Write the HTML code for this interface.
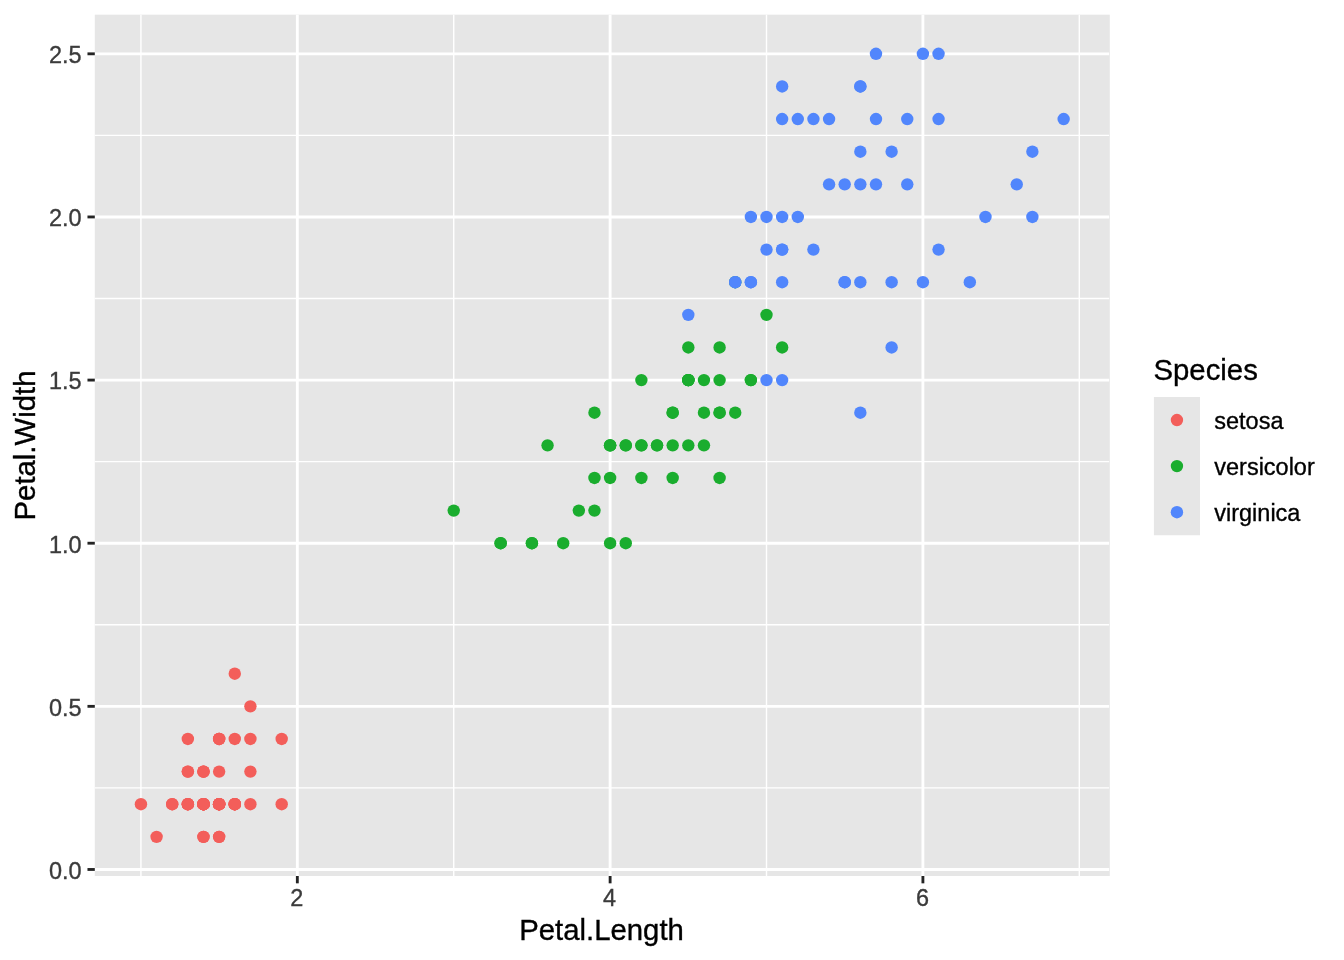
<!DOCTYPE html>
<html><head><meta charset="utf-8"><title>iris</title>
<style>
html,body{margin:0;padding:0;background:#fff;}
body{width:1344px;height:960px;overflow:hidden;}
body{position:relative;}
svg{display:block;position:absolute;left:0;top:0;}
#txt{will-change:transform;}
text{font-family:"Liberation Sans",sans-serif;}
.tk{font-size:23.47px;fill:#3B3B3B;stroke:#3B3B3B;stroke-width:0.35px;}
.ti{font-size:29.33px;fill:#000;stroke:#000;stroke-width:0.35px;}
.ll{font-size:23.47px;fill:#000;stroke:#000;stroke-width:0.35px;}
</style></head><body>
<svg width="1344" height="960" viewBox="0 0 1344 960">
<rect x="0" y="0" width="1344" height="960" fill="#FFFFFF"/>
<rect x="94.80" y="14.67" width="1015.00" height="861.33" fill="#E6E6E6"/>
<g stroke="#FFFFFF" stroke-width="1.42" fill="none">
<line x1="94.80" x2="1109.10" y1="787.91" y2="787.91"/>
<line x1="94.80" x2="1109.10" y1="624.78" y2="624.78"/>
<line x1="94.80" x2="1109.10" y1="461.65" y2="461.65"/>
<line x1="94.80" x2="1109.10" y1="298.52" y2="298.52"/>
<line x1="94.80" x2="1109.10" y1="135.39" y2="135.39"/>
<line x1="140.94" x2="140.94" y1="14.67" y2="876.00"/>
<line x1="453.73" x2="453.73" y1="14.67" y2="876.00"/>
<line x1="766.51" x2="766.51" y1="14.67" y2="876.00"/>
<line x1="1079.30" x2="1079.30" y1="14.67" y2="876.00"/>
</g>
<g stroke="#FFFFFF" stroke-width="2.85" fill="none">
<line x1="94.80" x2="1109.10" y1="869.47" y2="869.47"/>
<line x1="94.80" x2="1109.10" y1="706.34" y2="706.34"/>
<line x1="94.80" x2="1109.10" y1="543.21" y2="543.21"/>
<line x1="94.80" x2="1109.10" y1="380.08" y2="380.08"/>
<line x1="94.80" x2="1109.10" y1="216.95" y2="216.95"/>
<line x1="94.80" x2="1109.10" y1="53.82" y2="53.82"/>
<line x1="297.33" x2="297.33" y1="14.67" y2="876.00"/>
<line x1="610.12" x2="610.12" y1="14.67" y2="876.00"/>
<line x1="922.91" x2="922.91" y1="14.67" y2="876.00"/>
</g>
<g fill="#F35E5A">
<circle cx="203.49" cy="804.22" r="6.20"/><circle cx="203.49" cy="804.22" r="6.20"/><circle cx="187.85" cy="804.22" r="6.20"/><circle cx="219.13" cy="804.22" r="6.20"/><circle cx="203.49" cy="804.22" r="6.20"/><circle cx="250.41" cy="738.97" r="6.20"/><circle cx="203.49" cy="771.60" r="6.20"/><circle cx="219.13" cy="804.22" r="6.20"/><circle cx="203.49" cy="804.22" r="6.20"/><circle cx="219.13" cy="836.85" r="6.20"/><circle cx="219.13" cy="804.22" r="6.20"/><circle cx="234.77" cy="804.22" r="6.20"/><circle cx="203.49" cy="836.85" r="6.20"/><circle cx="156.58" cy="836.85" r="6.20"/><circle cx="172.22" cy="804.22" r="6.20"/><circle cx="219.13" cy="738.97" r="6.20"/><circle cx="187.85" cy="738.97" r="6.20"/><circle cx="203.49" cy="771.60" r="6.20"/><circle cx="250.41" cy="771.60" r="6.20"/><circle cx="219.13" cy="771.60" r="6.20"/><circle cx="250.41" cy="804.22" r="6.20"/><circle cx="219.13" cy="738.97" r="6.20"/><circle cx="140.94" cy="804.22" r="6.20"/><circle cx="250.41" cy="706.34" r="6.20"/><circle cx="281.69" cy="804.22" r="6.20"/><circle cx="234.77" cy="804.22" r="6.20"/><circle cx="234.77" cy="738.97" r="6.20"/><circle cx="219.13" cy="804.22" r="6.20"/><circle cx="203.49" cy="804.22" r="6.20"/><circle cx="234.77" cy="804.22" r="6.20"/><circle cx="234.77" cy="804.22" r="6.20"/><circle cx="219.13" cy="738.97" r="6.20"/><circle cx="219.13" cy="836.85" r="6.20"/><circle cx="203.49" cy="804.22" r="6.20"/><circle cx="219.13" cy="804.22" r="6.20"/><circle cx="172.22" cy="804.22" r="6.20"/><circle cx="187.85" cy="804.22" r="6.20"/><circle cx="203.49" cy="836.85" r="6.20"/><circle cx="187.85" cy="804.22" r="6.20"/><circle cx="219.13" cy="804.22" r="6.20"/><circle cx="187.85" cy="771.60" r="6.20"/><circle cx="187.85" cy="771.60" r="6.20"/><circle cx="187.85" cy="804.22" r="6.20"/><circle cx="234.77" cy="673.72" r="6.20"/><circle cx="281.69" cy="738.97" r="6.20"/><circle cx="203.49" cy="771.60" r="6.20"/><circle cx="234.77" cy="804.22" r="6.20"/><circle cx="203.49" cy="804.22" r="6.20"/><circle cx="219.13" cy="804.22" r="6.20"/><circle cx="203.49" cy="804.22" r="6.20"/>
</g>
<g fill="#1AAD2E">
<circle cx="719.60" cy="412.71" r="6.20"/><circle cx="688.32" cy="380.08" r="6.20"/><circle cx="750.87" cy="380.08" r="6.20"/><circle cx="610.12" cy="445.33" r="6.20"/><circle cx="703.96" cy="380.08" r="6.20"/><circle cx="688.32" cy="445.33" r="6.20"/><circle cx="719.60" cy="347.46" r="6.20"/><circle cx="500.64" cy="543.21" r="6.20"/><circle cx="703.96" cy="445.33" r="6.20"/><circle cx="594.48" cy="412.71" r="6.20"/><circle cx="531.92" cy="543.21" r="6.20"/><circle cx="641.40" cy="380.08" r="6.20"/><circle cx="610.12" cy="543.21" r="6.20"/><circle cx="719.60" cy="412.71" r="6.20"/><circle cx="547.56" cy="445.33" r="6.20"/><circle cx="672.68" cy="412.71" r="6.20"/><circle cx="688.32" cy="380.08" r="6.20"/><circle cx="625.76" cy="543.21" r="6.20"/><circle cx="688.32" cy="380.08" r="6.20"/><circle cx="594.48" cy="510.59" r="6.20"/><circle cx="735.24" cy="282.20" r="6.20"/><circle cx="610.12" cy="445.33" r="6.20"/><circle cx="750.87" cy="380.08" r="6.20"/><circle cx="719.60" cy="477.96" r="6.20"/><circle cx="657.04" cy="445.33" r="6.20"/><circle cx="672.68" cy="412.71" r="6.20"/><circle cx="735.24" cy="412.71" r="6.20"/><circle cx="766.51" cy="314.83" r="6.20"/><circle cx="688.32" cy="380.08" r="6.20"/><circle cx="531.92" cy="543.21" r="6.20"/><circle cx="578.84" cy="510.59" r="6.20"/><circle cx="563.20" cy="543.21" r="6.20"/><circle cx="594.48" cy="477.96" r="6.20"/><circle cx="782.15" cy="347.46" r="6.20"/><circle cx="688.32" cy="380.08" r="6.20"/><circle cx="688.32" cy="347.46" r="6.20"/><circle cx="719.60" cy="380.08" r="6.20"/><circle cx="672.68" cy="445.33" r="6.20"/><circle cx="625.76" cy="445.33" r="6.20"/><circle cx="610.12" cy="445.33" r="6.20"/><circle cx="672.68" cy="477.96" r="6.20"/><circle cx="703.96" cy="412.71" r="6.20"/><circle cx="610.12" cy="477.96" r="6.20"/><circle cx="500.64" cy="543.21" r="6.20"/><circle cx="641.40" cy="445.33" r="6.20"/><circle cx="641.40" cy="477.96" r="6.20"/><circle cx="641.40" cy="445.33" r="6.20"/><circle cx="657.04" cy="445.33" r="6.20"/><circle cx="453.73" cy="510.59" r="6.20"/><circle cx="625.76" cy="445.33" r="6.20"/>
</g>
<g fill="#5186FC">
<circle cx="922.91" cy="53.82" r="6.20"/><circle cx="782.15" cy="249.58" r="6.20"/><circle cx="907.27" cy="184.33" r="6.20"/><circle cx="860.35" cy="282.20" r="6.20"/><circle cx="891.63" cy="151.70" r="6.20"/><circle cx="1016.75" cy="184.33" r="6.20"/><circle cx="688.32" cy="314.83" r="6.20"/><circle cx="969.83" cy="282.20" r="6.20"/><circle cx="891.63" cy="282.20" r="6.20"/><circle cx="938.55" cy="53.82" r="6.20"/><circle cx="782.15" cy="216.95" r="6.20"/><circle cx="813.43" cy="249.58" r="6.20"/><circle cx="844.71" cy="184.33" r="6.20"/><circle cx="766.51" cy="216.95" r="6.20"/><circle cx="782.15" cy="86.45" r="6.20"/><circle cx="813.43" cy="119.07" r="6.20"/><circle cx="844.71" cy="282.20" r="6.20"/><circle cx="1032.38" cy="151.70" r="6.20"/><circle cx="1063.66" cy="119.07" r="6.20"/><circle cx="766.51" cy="380.08" r="6.20"/><circle cx="875.99" cy="119.07" r="6.20"/><circle cx="750.87" cy="216.95" r="6.20"/><circle cx="1032.38" cy="216.95" r="6.20"/><circle cx="750.87" cy="282.20" r="6.20"/><circle cx="875.99" cy="184.33" r="6.20"/><circle cx="922.91" cy="282.20" r="6.20"/><circle cx="735.24" cy="282.20" r="6.20"/><circle cx="750.87" cy="282.20" r="6.20"/><circle cx="860.35" cy="184.33" r="6.20"/><circle cx="891.63" cy="347.46" r="6.20"/><circle cx="938.55" cy="249.58" r="6.20"/><circle cx="985.47" cy="216.95" r="6.20"/><circle cx="860.35" cy="151.70" r="6.20"/><circle cx="782.15" cy="380.08" r="6.20"/><circle cx="860.35" cy="412.71" r="6.20"/><circle cx="938.55" cy="119.07" r="6.20"/><circle cx="860.35" cy="86.45" r="6.20"/><circle cx="844.71" cy="282.20" r="6.20"/><circle cx="735.24" cy="282.20" r="6.20"/><circle cx="829.07" cy="184.33" r="6.20"/><circle cx="860.35" cy="86.45" r="6.20"/><circle cx="782.15" cy="119.07" r="6.20"/><circle cx="782.15" cy="249.58" r="6.20"/><circle cx="907.27" cy="119.07" r="6.20"/><circle cx="875.99" cy="53.82" r="6.20"/><circle cx="797.79" cy="119.07" r="6.20"/><circle cx="766.51" cy="249.58" r="6.20"/><circle cx="797.79" cy="216.95" r="6.20"/><circle cx="829.07" cy="119.07" r="6.20"/><circle cx="782.15" cy="282.20" r="6.20"/>
</g>
<g stroke="#242424" stroke-width="2.85" fill="none">
<line x1="87.47" x2="94.80" y1="869.47" y2="869.47"/>
<line x1="87.47" x2="94.80" y1="706.34" y2="706.34"/>
<line x1="87.47" x2="94.80" y1="543.21" y2="543.21"/>
<line x1="87.47" x2="94.80" y1="380.08" y2="380.08"/>
<line x1="87.47" x2="94.80" y1="216.95" y2="216.95"/>
<line x1="87.47" x2="94.80" y1="53.82" y2="53.82"/>
<line x1="297.33" x2="297.33" y1="876.00" y2="883.33"/>
<line x1="610.12" x2="610.12" y1="876.00" y2="883.33"/>
<line x1="922.91" x2="922.91" y1="876.00" y2="883.33"/>
</g>
<rect x="1153.90" y="397.00" width="46.08" height="138.24" fill="#E6E6E6"/>
<circle cx="1176.94" cy="420.04" r="6.20" fill="#F35E5A"/>
<circle cx="1176.94" cy="466.12" r="6.20" fill="#1AAD2E"/>
<circle cx="1176.94" cy="512.20" r="6.20" fill="#5186FC"/>
</svg>
<svg id="txt" width="1344" height="960" viewBox="0 0 1344 960">
<g class="tk" text-anchor="end">
<text x="81.60" y="878.87">0.0</text>
<text x="81.60" y="715.74">0.5</text>
<text x="81.60" y="552.61">1.0</text>
<text x="81.60" y="389.48">1.5</text>
<text x="81.60" y="226.35">2.0</text>
<text x="81.60" y="63.22">2.5</text>
</g>
<g class="tk" text-anchor="middle">
<text x="296.83" y="906.00">2</text>
<text x="609.62" y="906.00">4</text>
<text x="922.41" y="906.00">6</text>
</g>
<text class="ti" text-anchor="middle" x="601.50" y="940.00">Petal.Length</text>
<text class="ti" text-anchor="middle" transform="translate(35.00,445.50) rotate(-90)">Petal.Width</text>
<text class="ti" x="1153.50" y="379.60">Species</text>
<text class="ll" x="1214.30" y="428.94">setosa</text>
<text class="ll" x="1214.30" y="475.02">versicolor</text>
<text class="ll" x="1214.30" y="521.10">virginica</text>
</svg>
</body></html>
